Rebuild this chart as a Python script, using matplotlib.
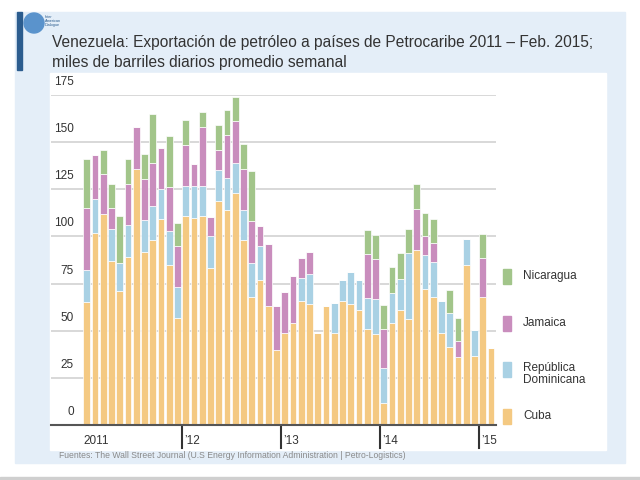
import matplotlib
matplotlib.use("Agg")
from matplotlib import pyplot as plt
from matplotlib.patches import Rectangle, Ellipse

plt.rcParams["font.family"] = ["Liberation Sans", "DejaVu Sans"]

W, H = 640, 480

# monthly values, Jan 2011 .. Feb 2015 (thousand barrels/day)
cuba = [65, 102, 112, 87, 71, 89, 136, 91.5, 98, 109, 85, 57,
        111, 110, 111, 83, 119, 114, 123, 98, 68, 77, 63, 40, 49,
        54, 65.5, 64, 49, 63, 49, 66, 64, 61, 51, 48,
        11.5, 54, 61, 56, 93, 72, 68, 49, 41.5, 36, 85, 36.5,
        68, 41]
rep_dom = [17, 18, 0, 17, 15, 17, 0, 17, 18, 16, 18, 16,
           15.5, 16.5, 15.5, 17, 16, 17, 16, 16, 18, 18, 0, 0, 0,
           0, 12.5, 16, 0, 0, 15.5, 11, 17, 16, 16.5, 19,
           18.5, 16, 16.5, 35, 0, 18, 18.5, 17, 18, 0, 13.5, 14,
           0, 0]
jamaica = [33, 23, 21, 11, 0, 22, 22, 22, 23, 22, 23, 22,
           22, 12, 31.5, 10.5, 11, 23, 22, 22, 22, 10.5, 33, 23, 21.5,
           25, 10.5, 12, 0, 0, 0, 0, 0, 0, 23, 21,
           21, 0, 0, 0, 21.5, 10, 10, 0, 0, 8.5, 0, 0,
           20.5, 0]
nicaragua = [26, 0, 13, 13, 25, 13, 0, 13, 26, 0, 27, 12,
             13, 0, 8, 0, 13, 13, 13, 13, 26.5, 0, 0, 0, 0,
             0, 0, 0, 0, 0, 0, 0, 0, 0, 13, 13,
             12.5, 14, 13.5, 13, 13.5, 12.5, 12.5, 0, 12, 12, 0, 0,
             13, 0]

series = [("Cuba", cuba, "#f4c982"),
          ("República\nDominicana", rep_dom, "#a9d1e4"),
          ("Jamaica", jamaica, "#c98dbd"),
          ("Nicaragua", nicaragua, "#a2c58a")]

y_ticks = [0, 25, 50, 75, 100, 125, 150, 175]
year_labels = ["2011", "’12", "’13", "’14", "’15"]


def fx(px):
    return px / W


def fy(py):
    return 1 - py / H


fig = plt.figure(figsize=(6.4, 4.8), dpi=100)
fig.patch.set_facecolor("white")

# background panels
fig.patches.append(Rectangle((fx(15), fy(463)), fx(625) - fx(15), fy(12) - fy(463),
                             transform=fig.transFigure, color="#e4eef8", zorder=-3))
fig.patches.append(Rectangle((fx(50), fy(450)), fx(606) - fx(50), fy(73) - fy(450),
                             transform=fig.transFigure, color="white", zorder=-2))
fig.patches.append(Rectangle((0, 0), 1, fy(477), transform=fig.transFigure,
                             color="#cfcfcf", zorder=-3))

# logo
fig.patches.append(Rectangle((fx(17), fy(70)), fx(5), fy(12) - fy(70),
                             transform=fig.transFigure, color="#2b5c8e", zorder=1))
fig.patches.append(Ellipse((fx(34), fy(23)), fx(20), fy(0) - fy(20), transform=fig.transFigure,
                           color="#5a93cc", zorder=1))
fig.text(fx(45), fy(21), "Inter\nAmerican\nDialogue", fontsize=2.8, color="#2b5c8e",
         va="center", linespacing=1.1)

fig.text(fx(52), fy(43), "Venezuela: Exportación de petróleo a países de Petrocaribe 2011 – Feb. 2015;",
         fontsize=11.2, color="#333333", va="center")
fig.text(fx(52), fy(62), "miles de barriles diarios promedio semanal",
         fontsize=11.2, color="#333333", va="center")

ax = fig.add_axes([fx(51), fy(425), fx(496) - fx(51), fy(95) - fy(425)])
ax.patch.set_visible(False)
for s in ax.spines.values():
    s.set_visible(False)
ax.set_xticks([])
ax.set_yticks([])

n = len(cuba)
x = list(range(n))
ax.set_xlim(-4.34, 49.6)
ax.set_ylim(0, 175)

for v in y_ticks[1:]:
    ax.axhline(v, color="#d6d6d6", lw=1.3, zorder=0)
for v in y_ticks:
    ax.text(-1.55, v + 6.9, str(v), ha="right", va="center", fontsize=8.5, color="#333333")

bottom = [0] * n
for label, vals, color in series:
    ax.bar(x, vals, width=0.82, bottom=bottom, color=color,
           edgecolor="white", linewidth=0.5, zorder=2)
    bottom = [b + v for b, v in zip(bottom, vals)]

ax.axhline(0, color="#555555", lw=1.5, zorder=3, clip_on=False)

# year separators
for k, lab in enumerate(year_labels):
    b = 12 * k - 0.5
    if k > 0:
        ax.plot([b, b], [0, -12.2], color="#333333", lw=1.5, clip_on=False)
        ax.text(b + 0.3, -8.5, lab, ha="left", va="center", fontsize=8.5, color="#333333")
    else:
        ax.text(-0.46, -8.5, lab, ha="left", va="center", fontsize=8.5, color="#333333")

# legend
legend_y = {"Nicaragua": 276, "Jamaica": 323, "República\nDominicana": 369, "Cuba": 416}
for label, vals, color in series:
    yc = legend_y[label]
    fig.patches.append(Rectangle((fx(503), fy(yc + 7.5)), fx(8), fy(0) - fy(15),
                                 transform=fig.transFigure, color=color, zorder=3))
    ty = yc + 5 if "\n" in label else yc
    fig.text(fx(523), fy(ty), label, fontsize=8.5, color="#333333", va="center",
             linespacing=1.05)

fig.text(fx(59), fy(456), "Fuentes: The Wall Street Journal (U.S Energy Information Administration | Petro-Logistics)",
         fontsize=6.2, color="#8a8a8a", va="center")

fig.savefig("out.png", dpi=100)
